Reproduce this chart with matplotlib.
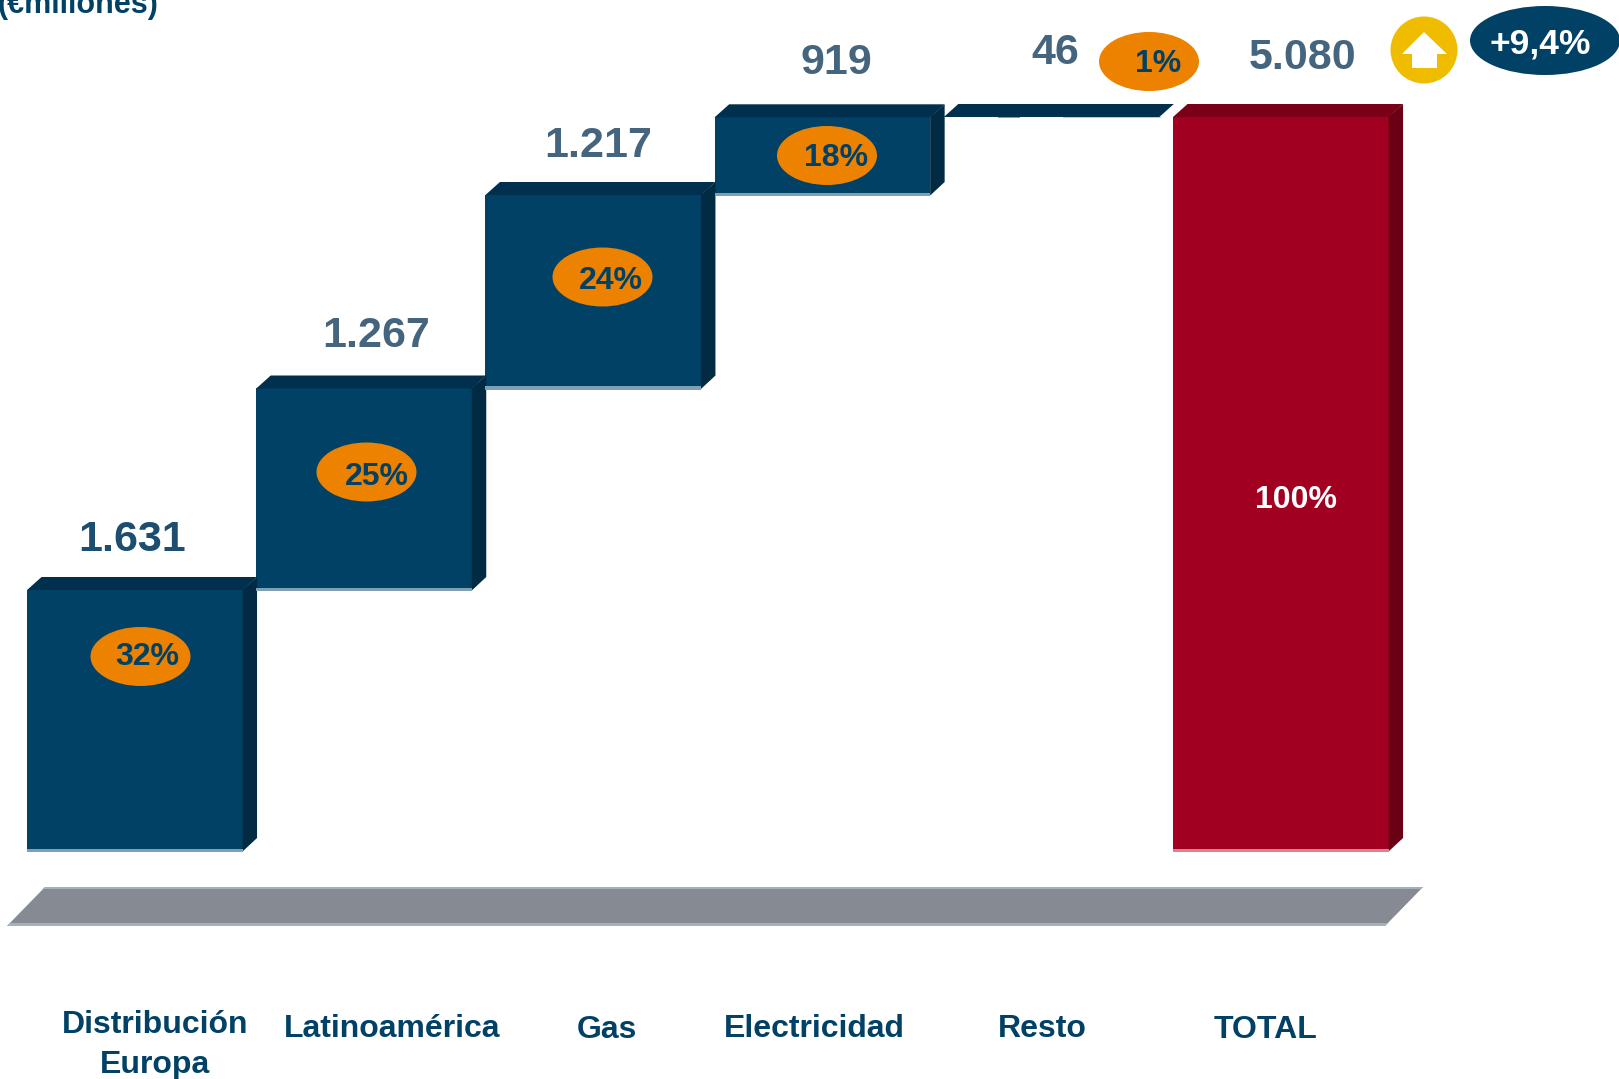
import numpy as np
import matplotlib
matplotlib.use("Agg")
import matplotlib.pyplot as plt
from matplotlib.patches import Ellipse, Polygon, Rectangle

plt.rcParams["font.family"] = ["Liberation Sans", "DejaVu Sans"]

# Chart data
categories = ["Distribución\nEuropa", "Latinoamérica", "Gas", "Electricidad", "Resto", "TOTAL"]
values = [1631, 1267, 1217, 919, 46]
total = 5080
value_labels = ["1.631", "1.267", "1.217", "919", "46", "5.080"]
share_labels = ["32%", "25%", "24%", "18%", "1%"]
total_share_label = "100%"
growth_label = "+9,4%"
unit_label = "(€millones)"

# Steps are not drawn in proportion to their amounts on this slide, so the
# hidden value axis is piecewise linear between these cumulative levels.
scale_levels = [-227, 0, 1631, 2898, 4115, 5034, 5080, 5196.5]
scale_rows = [1079, 850.5, 589.5, 388, 194.5, 116.8, 116.5, 0]
axis_rows = [-r for r in scale_rows]

NAVY, NAVY_TOP, NAVY_SIDE, NAVY_LIP = "#004165", "#00304D", "#002B42", "#7F9FB5"
RED, RED_TOP, RED_SIDE, RED_LIP = "#A20020", "#7A0018", "#6A0014", "#DB8090"
ORANGE, YELLOW, FLOOR, FLOOR_LIP = "#EC8200", "#F0BC00", "#868A92", "#A3B0BD"
LABEL_SOFT, LABEL_DARK = "#45657F", "#1D4D6F"

W, H = 1619, 1079
PITCH = 229.2
FRONT = 215.5
DEPTH_X, DEPTH_Y = 14.5, 12.5

fig = plt.figure(figsize=(W / 100, H / 100), dpi=100, facecolor="white")

# Columns use category / value axes; the overlay works in pixels from the top left
ax = fig.add_axes([0, 0, 1, 1])
ax.set_yscale("function", functions=(
    lambda v: np.interp(v, scale_levels, axis_rows),
    lambda a: np.interp(a, axis_rows, scale_levels),
))
ax.set_xlim(-134.8 / PITCH, (W - 134.8) / PITCH)
ax.set_ylim(scale_levels[0], scale_levels[-1])
ax.axis("off")

ov = fig.add_axes([0, 0, 1, 1])
ov.set_xlim(0, W)
ov.set_ylim(H, 0)
ov.axis("off")
ov.patch.set_alpha(0)


def column(i, low, high, front, top_c, side_c, lip):
    """Draw one extruded column from its value range."""
    width = FRONT / PITCH
    ax.bar(i, high - low, bottom=low, width=width, color=front, linewidth=0, zorder=2)
    x0, y_b = ax.transData.transform((i - width / 2, low))
    x1, y_t = ax.transData.transform((i + width / 2, high))
    r_b, r_t = H - y_b, H - y_t
    ov.add_patch(Polygon([(x0, r_t + 0.5), (x0 + DEPTH_X, r_t - DEPTH_Y), (x1 + DEPTH_X, r_t - DEPTH_Y), (x1, r_t + 0.5)],
                         closed=True, fc=top_c, ec="none", zorder=3))
    if r_b - r_t > 5:
        ov.add_patch(Polygon([(x1, r_t), (x1 + DEPTH_X, r_t - DEPTH_Y), (x1 + DEPTH_X, r_b - 12.5), (x1, r_b + 1)],
                             closed=True, fc=side_c, ec="none", zorder=3))
        ov.add_patch(Rectangle((x0, r_b - 2), x1 - x0, 3.5, fc=lip, ec="none", zorder=3))


start = 0
for i, v in enumerate(values):
    column(i, start, start + v, NAVY, NAVY_TOP, NAVY_SIDE, NAVY_LIP)
    start += v
column(len(values), 0, total, RED, RED_TOP, RED_SIDE, RED_LIP)

# Pale edge and small orange remnant beneath the thin "Resto" step
ov.add_patch(Rectangle((1063, 116.5), 98, 1.8, fc="#B5C8D4", ec="none", zorder=4))
ov.add_patch(Rectangle((998, 116.5), 22, 1.5, fc=ORANGE, ec="none", zorder=4))

# Floor slab under the columns
ov.add_patch(Polygon([(7, 926), (45, 887), (1423, 887), (1385, 926)],
                     closed=True, fc=FLOOR, ec="none", zorder=1))
ov.add_patch(Polygon([(7, 926), (10, 923), (1388, 923), (1385, 926)],
                     closed=True, fc=FLOOR_LIP, ec="none", zorder=1))
ov.add_patch(Polygon([(45, 887), (1423, 887), (1421, 889), (43, 889)],
                     closed=True, fc=FLOOR_LIP, ec="none", zorder=1))

# Share badges and their labels
badge_centres = [(140.5, 656.5), (366.5, 472), (602.5, 277), (827, 155.5), (1149, 61.5)]
text_centres = [(147, 657), (377, 477), (611, 281), (836, 158), (1158, 64)]
for (cx, cy), (tx, ty), s in zip(badge_centres, text_centres, share_labels):
    ov.add_patch(Ellipse((cx, cy), 100, 59, fc=ORANGE, ec="none", zorder=5))
    ov.text(tx, ty, s, fontsize=23, fontweight="bold", color="#004165",
            ha="center", va="center", zorder=6)

ov.text(1296, 500, total_share_label, fontsize=23, fontweight="bold", color="white",
        ha="center", va="center", zorder=6)

# Values above each step
value_pos = [(132, 540), (376, 336), (598, 146), (836, 63), (1055, 53), (1303, 58)]
value_cols = [LABEL_DARK] + [LABEL_SOFT] * 5
for (x, y), s, c in zip(value_pos, value_labels, value_cols):
    ov.text(x, y, s, fontsize=31, fontweight="bold", color=c, ha="center", va="center", zorder=6)

# Growth indicator
ov.add_patch(Ellipse((1424, 50), 67, 67, fc=YELLOW, ec="none", zorder=5))
ov.add_patch(Polygon([(1424, 32), (1447, 54), (1437, 54), (1437, 68), (1412, 68), (1412, 54), (1402, 54)],
                     closed=True, fc="white", ec="none", zorder=6))
ov.add_patch(Ellipse((1545, 40.5), 150, 69, fc=NAVY, ec="none", zorder=5))
ov.text(1540, 44, growth_label, fontsize=25.5, fontweight="bold", color="white",
        ha="center", va="center", zorder=6)

ov.text(-2, 13, unit_label, fontsize=22, fontweight="bold", color=NAVY,
        ha="left", va="baseline", zorder=6)

# Category names under the floor
cat_pos = [(155, 1045), (392, 1029), (607, 1030), (814, 1029), (1042, 1029), (1265, 1030)]
for (x, y), name in zip(cat_pos, categories):
    ov.text(x, y, name, fontsize=23, fontweight="bold", color=NAVY, ha="center", va="center",
            linespacing=1.4, zorder=6)

fig.savefig("out.png", dpi=100, facecolor="white")
